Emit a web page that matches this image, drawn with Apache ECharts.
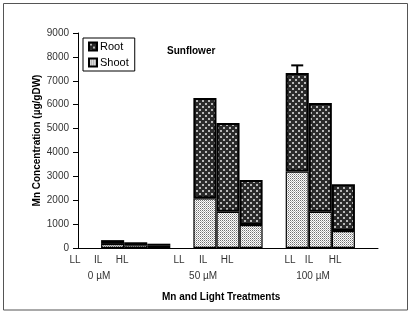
<!DOCTYPE html>
<html>
<head>
<meta charset="utf-8">
<script src="https://cdn.jsdelivr.net/npm/echarts@6/dist/echarts.min.js"></script>
<style>
  html, body { margin: 0; padding: 0; background: #fff; }
  #chart { width: 412px; height: 315px; }
</style>
</head>
<body>
<div id="chart"></div>
<script>
// category slots along the x axis (empty slots are the gaps between Mn groups)
const slots = ['', 'LL', 'IL', 'HL', '', 'LL', 'IL', 'HL', '', 'LL', 'IL', 'HL', '']
const shootVals = [null, 170, 120, 90, null, 2080, 1520, 965, null, 3200, 1520, 710, null]
const rootVals = [null, 160, 120, 90, null, 4200, 3710, 1885, null, 4125, 4550, 1960, null]
const errVals = [null, 0, 0, 0, null, 0, 0, 0, null, 320, 0, 0, null]
// tick labels as they sit under the axis (in slot units)
const lightLabels = ['LL', 'IL', 'HL', 'LL', 'IL', 'HL', 'LL', 'IL', 'HL']
const lightLabelAt = [-0.13, 0.87, 1.91, 4.38, 5.42, 6.46, 9.19, 10.01, 11.14]
const mnLabels = ['0 µM', '50 µM', '100 µM']
const mnLabelAt = [0.91, 5.42, 10.18]

const font = '"Liberation Sans", Arial, sans-serif'

// fill patterns like the excel hatch fills
function makePattern(bg, dots, size) {
  let c = document.createElement('canvas')
  c.width = c.height = size
  let g = c.getContext('2d')
  g.fillStyle = bg
  g.fillRect(0, 0, size, size)
  dots.forEach(d => {
    g.fillStyle = d[4]
    g.fillRect(d[0], d[1], d[2], d[3])
  })
  return { image: c, repeat: 'repeat' }
}
const rootFill = makePattern('#2a2a2a', [[1, 1, 2, 2, '#b8b8b8'], [4, 4, 2, 2, '#b8b8b8']], 6)
const shootFill = makePattern('#ffffff', [[0, 0, 1, 1, '#707070'], [1, 1, 1, 1, '#b4b4b4']], 2)

function labelAt(list, pos) {
  return function (v) {
    let i = pos.findIndex(p => Math.abs(p - v) < 1e-6)
    return i < 0 ? '' : list[i]
  }
}

let errData = []
errVals.forEach((e, i) => {
  if (e) errData.push([i, shootVals[i] + rootVals[i], e])
})

let chart = echarts.init(document.getElementById('chart'))
let option = {
  animation: false,
  textStyle: { fontFamily: font },
  title: [
    { text: 'Sunflower', left: 162, top: 41,
      textStyle: { fontSize: 10, fontWeight: 'bold', color: '#000', fontFamily: font } },
    { text: 'Mn and Light Treatments', left: 157, top: 287,
      textStyle: { fontSize: 10, fontWeight: 'bold', color: '#000', fontFamily: font } }
  ],
  legend: {
    orient: 'vertical',
    left: 83,
    top: 38,
    data: ['Root', 'Shoot'],
    icon: 'rect',
    itemWidth: 8,
    itemHeight: 8,
    itemGap: 5,
    padding: [3, 6, 3, 5],
    borderColor: '#000',
    borderWidth: 1,
    textStyle: { fontSize: 11, color: '#000', fontFamily: font, padding: [0, 0, 0, -2] }
  },
  grid: [
    { left: 78, right: 34, top: 33, bottom: 67 },
    { left: 54.92, right: 10.88, top: 33, bottom: 67 }
  ],
  xAxis: [
    {
      type: 'category',
      data: slots,
      boundaryGap: true,
      axisLine: { lineStyle: { color: '#000', width: 1 } },
      axisTick: { interval: 0, length: 4, lineStyle: { color: '#000' } },
      axisLabel: { show: false }
    },
    {
      type: 'value', gridIndex: 1, min: -1, max: 14,
      axisLine: { show: false }, axisTick: { show: false }, splitLine: { show: false },
      axisLabel: {
        customValues: lightLabelAt,
        formatter: labelAt(lightLabels, lightLabelAt),
        margin: 7, fontSize: 10, color: '#333', fontFamily: font
      }
    },
    {
      type: 'value', gridIndex: 1, min: -1, max: 14, position: 'bottom',
      axisLine: { show: false }, axisTick: { show: false }, splitLine: { show: false },
      axisLabel: {
        customValues: mnLabelAt,
        formatter: labelAt(mnLabels, mnLabelAt),
        margin: 23, fontSize: 10, color: '#333', fontFamily: font
      }
    }
  ],
  yAxis: [
    {
      type: 'value',
      min: 0,
      max: 9000,
      interval: 1000,
      name: 'Mn Concentration (µg/gDW)',
      nameLocation: 'middle',
      nameGap: 36,
      nameMoveOverlap: false,
      nameTextStyle: { fontSize: 10, fontWeight: 'bold', color: '#000', fontFamily: font },
      axisLine: { show: true, lineStyle: { color: '#000', width: 1 } },
      axisTick: { show: true, length: 5, lineStyle: { color: '#000' } },
      splitLine: { show: false },
      axisLabel: {
        margin: 9, fontSize: 10, color: '#333', fontFamily: font,
        formatter: v => String(v)
      }
    },
    { type: 'value', gridIndex: 1, min: 0, max: 9000, show: false }
  ],
  series: [
    {
      name: 'Shoot',
      type: 'bar',
      stack: 'mn',
      data: shootVals,
      barCategoryGap: 0,
      itemStyle: { color: shootFill, borderColor: '#000', borderWidth: 1.2 }
    },
    {
      name: 'Root',
      type: 'bar',
      stack: 'mn',
      data: rootVals,
      barCategoryGap: 0,
      itemStyle: { color: rootFill, borderColor: '#000', borderWidth: 2 }
    },
    {
      type: 'custom',
      data: errData,
      z: 1,
      renderItem: function (params, api) {
        let top = api.coord([api.value(0), api.value(1)])
        let end = api.coord([api.value(0), api.value(1) + api.value(2)])
        let st = { stroke: '#000', lineWidth: 2 }
        return {
          type: 'group',
          children: [
            { type: 'line', shape: { x1: top[0], y1: top[1], x2: end[0], y2: end[1] }, style: st },
            { type: 'line', shape: { x1: end[0] - 6, y1: end[1], x2: end[0] + 6, y2: end[1] }, style: st }
          ]
        }
      }
    }
  ],
  graphic: [
    {
      type: 'rect',
      silent: true,
      shape: { x: 3.5, y: 3.5, width: 404, height: 306.5 },
      style: { fill: 'none', stroke: '#555', lineWidth: 1 }
    }
  ]
}
chart.setOption(option)
</script>
</body>
</html>
